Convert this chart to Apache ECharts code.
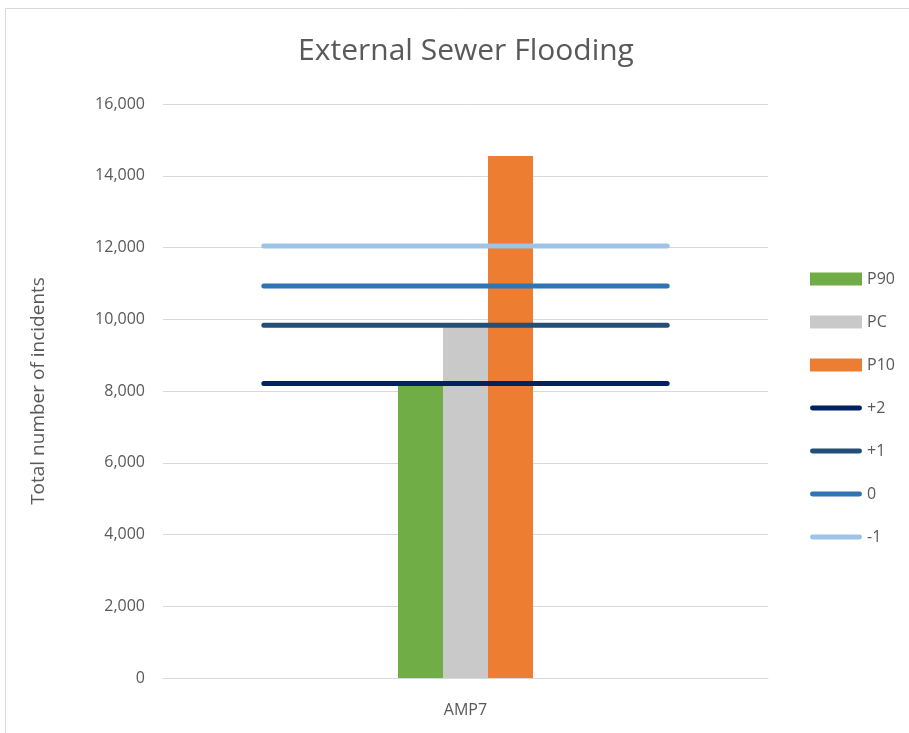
<!DOCTYPE html>
<html>
<head>
<meta charset="utf-8">
<script src="https://cdn.jsdelivr.net/npm/echarts@6/dist/echarts.min.js"></script>
<style>
  html, body { margin: 0; padding: 0; background: #ffffff; }
  #chart { width: 909px; height: 733px; }
</style>
</head>
<body>
<div id="chart"></div>
<script>
// Period shown on the category axis
const categories = ['AMP7'];

// Bar series: forecast scenarios (total incidents)
const barNames = ['P90', 'PC', 'P10'];
const barValues = [8180, 9780, 14550];
const barColors = ['#70ad47', '#c9c9c9', '#ed7d31'];

// Horizontal reference levels
const levelNames = ['+2', '+1', '0', '-1'];
const levelValues = [8210, 9830, 10925, 12045];
const levelColors = ['#012161', '#234e78', '#2e75b6', '#9dc3e6'];

// Start and end positions of each reference line on the hidden x-axis
const levelSpan = [0, 1];

// Value axis ticks
const yTicks = [0, 2000, 4000, 6000, 8000, 10000, 12000, 14000, 16000];

const textColor = '#595959';
const fontFamily = 'Open Sans, Liberation Sans, sans-serif';

// Legend glyph for the reference levels: a thick line with rounded ends
const lineIcon = 'path://M2.5,0 L51.5,0 A2.5,2.5 0 0 1 51.5,5 L2.5,5 A2.5,2.5 0 0 1 2.5,0 Z';

const series = [];
barNames.forEach((name, i) => {
  series.push({
    name: name,
    type: 'bar',
    xAxisIndex: 0,
    yAxisIndex: 0,
    data: [barValues[i]],
    barWidth: 45,
    barGap: '0%',
    itemStyle: { color: barColors[i] },
    z: 2
  });
});
levelNames.forEach((name, i) => {
  series.push({
    name: name,
    type: 'line',
    xAxisIndex: 1,
    yAxisIndex: 0,
    data: levelSpan.map(x => [x, levelValues[i]]),
    symbol: 'none',
    lineStyle: { color: levelColors[i], width: 5, cap: 'round' },
    itemStyle: { color: levelColors[i] },
    z: 3
  });
});

const legendData = barNames.map((n, i) => ({
  name: n,
  icon: 'rect',
  itemStyle: { color: barColors[i] }
})).concat(levelNames.map((n, i) => ({
  name: n,
  icon: lineIcon,
  itemStyle: { color: levelColors[i] }
})));

const chart = echarts.init(document.getElementById('chart'), null, { renderer: 'canvas' });
chart.setOption({
  backgroundColor: '#ffffff',
  animation: false,
  graphic: [{
    type: 'rect',
    shape: { x: 5.5, y: 8.5, width: 940, height: 760 },
    style: { fill: null, stroke: '#d9d9d9', lineWidth: 1 },
    silent: true,
    z: -1
  }],
  title: {
    text: 'External Sewer Flooding',
    left: 461,
    top: 31,
    textAlign: 'center',
    textStyle: { color: textColor, fontSize: 30, fontWeight: 'normal', fontFamily: fontFamily }
  },
  legend: {
    orient: 'vertical',
    left: 805,
    top: 266,
    itemWidth: 52,
    itemHeight: 13,
    itemGap: 27,
    textStyle: { color: textColor, fontSize: 16, fontFamily: fontFamily },
    data: legendData
  },
  grid: { left: 163, right: 141, top: 104, bottom: 55, containLabel: false },
  xAxis: [{
    type: 'category',
    data: categories,
    axisLine: { show: true, lineStyle: { color: '#d9d9d9', width: 1 } },
    axisTick: { show: false },
    axisLabel: { color: textColor, fontSize: 16, fontFamily: fontFamily, margin: 24 },
    splitLine: { show: false }
  }, {
    type: 'value',
    min: -0.25,
    max: 1.25,
    show: false
  }],
  yAxis: {
    type: 'value',
    min: yTicks[0],
    max: yTicks[yTicks.length - 1],
    interval: 2000,
    name: 'Total number of incidents',
    nameLocation: 'middle',
    nameGap: 115,
    nameRotate: 90,
    nameTextStyle: { color: textColor, fontSize: 19, fontFamily: fontFamily },
    axisLine: { show: false },
    axisTick: { show: false },
    axisLabel: {
      color: textColor,
      fontSize: 16,
      fontFamily: fontFamily,
      margin: 18,
      formatter: v => v.toLocaleString('en-US')
    },
    splitLine: { show: true, lineStyle: { color: '#d9d9d9', width: 1 } }
  },
  series: series
});
</script>
</body>
</html>
